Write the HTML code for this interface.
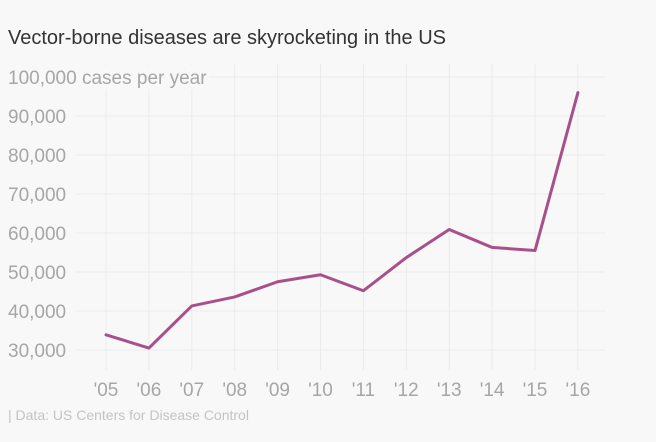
<!DOCTYPE html>
<html><head><meta charset="utf-8"><style>
html,body{margin:0;padding:0;background:#f8f8f8;}
body{width:656px;height:437px;overflow:hidden;font-family:"Liberation Sans",sans-serif;}
</style></head><body>
<svg width="656" height="437" xmlns="http://www.w3.org/2000/svg">
<rect width="656" height="437" fill="#f8f8f8"/>
<text x="8" y="44" font-size="20" fill="#333">Vector-borne diseases are skyrocketing in the US</text>
<g id="grid"></g><g id="ylab"></g><g id="xlab"></g><g id="series"></g>
<text x="8" y="420" font-size="14" fill="#c4c4c4">| Data: US Centers for Disease Control</text>
</svg>
<script>
const years=["'05","'06","'07","'08","'09","'10","'11","'12","'13","'14","'15","'16"];
const cases=[33900,30500,41300,43600,47500,49300,45200,53700,60900,56300,55500,96000];
const yTicks=[30000,40000,50000,60000,70000,80000,90000,100000];
const yTickLabels=["30,000","40,000","50,000","60,000","70,000","80,000","90,000","100,000 cases per year"];
const NS="http://www.w3.org/2000/svg";
function y(v){return 350-(v-30000)*39/10000;}
function x(i){return 106+i*42.9;}
function mk(tag,attrs,parent){const e=document.createElementNS(NS,tag);for(const k in attrs)e.setAttribute(k,attrs[k]);document.getElementById(parent).appendChild(e);return e;}
years.forEach((yr,i)=>{
  const l=mk('line',{x1:x(i),x2:x(i),y1:64,y2:370,stroke:'#ebebeb','stroke-width':1},'grid');
  
  
  const t=mk('text',{x:x(i),y:396,'font-size':19,fill:'#a6a6a6','text-anchor':'middle'},'xlab');
  t.textContent=yr;
  
  
});
yTicks.forEach((v,i)=>{
  const l=mk('line',{x1:72,x2:605,y1:y(v),y2:y(v),stroke:'#ebebeb','stroke-width':1},'grid');
  
  
  const w=i===yTicks.length-1?205:72;
  const r=mk('rect',{x:4,y:y(v)-12,width:w,height:24,fill:'#f8f8f8'},'ylab');
  
  
  const t=mk('text',{x:8,y:y(v)+7,'font-size':19,fill:'#a6a6a6'},'ylab');
  t.textContent=yTickLabels[i];
  
  
});
const p=mk('polyline',{points:cases.map((v,i)=>x(i)+','+y(v)).join(' '),fill:'none',stroke:'#a8508a','stroke-width':3,'stroke-linejoin':'round','stroke-linecap':'round'},'series');


</script>
</body></html>
